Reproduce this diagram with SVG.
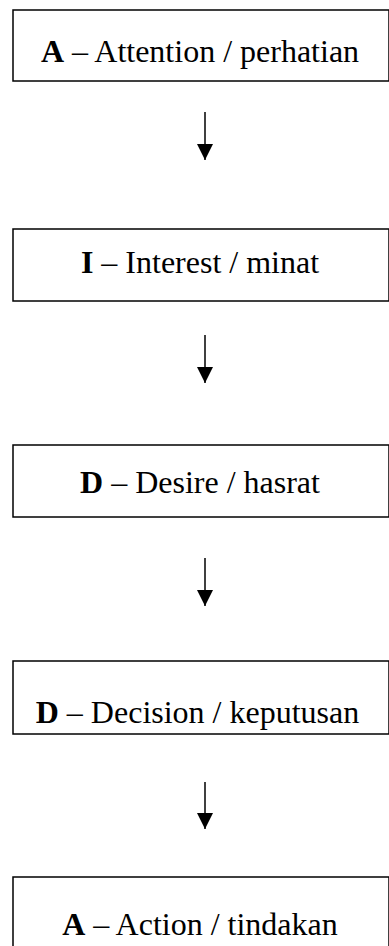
<svg xmlns="http://www.w3.org/2000/svg" width="389" height="946" viewBox="0 0 389 946">
<defs>
<style>
.box{fill:#fff;stroke:#000;stroke-width:1.5}
.t{font-family:"Liberation Serif","Times New Roman",serif;font-size:32px;fill:#000;text-anchor:middle}
.b{font-weight:bold}
.c{stroke:#000;stroke-width:1.5;fill:none}
</style>
<marker id="ah" markerUnits="userSpaceOnUse" markerWidth="16" markerHeight="16" refX="16" refY="8" orient="auto" viewBox="0 0 16 16">
<path d="M0,0 L16,8 L0,16 Z" fill="#000"/>
</marker>
</defs>
<rect width="389" height="946" fill="#fff"/>
<g id="connectors">
<line class="c" x1="205" y1="112" x2="205" y2="160" marker-end="url(#ah)"/>
<line class="c" x1="205" y1="335" x2="205" y2="383" marker-end="url(#ah)"/>
<line class="c" x1="205" y1="558" x2="205" y2="606" marker-end="url(#ah)"/>
<line class="c" x1="205" y1="782" x2="205" y2="829" marker-end="url(#ah)"/>
</g>
<g id="attention">
<rect class="box" x="13" y="10" width="376" height="71"/>
<text class="t" x="200" y="62"><tspan class="b">A</tspan> – Attention / perhatian</text>
</g>
<g id="interest">
<rect class="box" x="13" y="229" width="376" height="72"/>
<text class="t" x="200" y="273"><tspan class="b">I</tspan> – Interest / minat</text>
</g>
<g id="desire">
<rect class="box" x="13" y="445" width="376" height="72"/>
<text class="t" x="200" y="493"><tspan class="b">D</tspan> – Desire / hasrat</text>
</g>
<g id="decision">
<rect class="box" x="13" y="661" width="376" height="73"/>
<text class="t" x="197.5" y="723"><tspan class="b">D</tspan> – Decision / keputusan</text>
</g>
<g id="action">
<rect class="box" x="13" y="877" width="376" height="80"/>
<text class="t" x="200" y="935"><tspan class="b">A</tspan> – Action / tindakan</text>
</g>
</svg>
